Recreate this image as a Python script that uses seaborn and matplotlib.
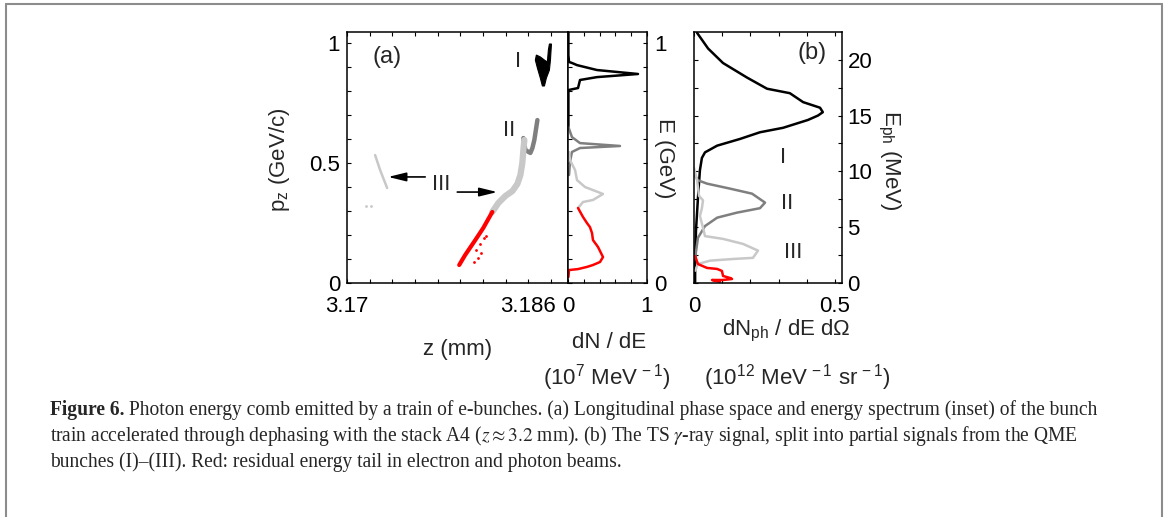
import matplotlib
matplotlib.use("Agg")
import matplotlib.pyplot as plt
import pandas as pd
import seaborn as sns
from matplotlib.lines import Line2D

sns.set_theme(style="white")
plt.rcParams["font.family"] = ["Liberation Sans", "DejaVu Sans"]
plt.rcParams["mathtext.fontset"] = "custom"
plt.rcParams["mathtext.rm"] = "Liberation Sans"
plt.rcParams["mathtext.it"] = "Liberation Sans:italic"
plt.rcParams["mathtext.bf"] = "Liberation Sans:bold"

BLACK, DARK, LIGHT, RED = "#000000", "#7f7f7f", "#c8c8c8", "#ff0000"

# ---------------- (a) longitudinal phase space: z (mm), p_z (GeV/c) ----------
tail_z = [3.17990, 3.18043, 3.18132, 3.18202, 3.18282]
tail_p = [0.075, 0.117, 0.179, 0.229, 0.296]
tail_dots_z = [3.18141, 3.18176, 3.18211, 3.18158, 3.18123, 3.18229, 3.18185]
tail_dots_p = [0.1375, 0.1625, 0.1875, 0.104, 0.0875, 0.196, 0.125]

b3_z = [3.18282, 3.18335, 3.18397, 3.18459, 3.18503, 3.18530, 3.18547, 3.18556, 3.18565]
b3_p = [0.296, 0.333, 0.3625, 0.383, 0.4125, 0.45, 0.5, 0.554, 0.596]
b3_lead_z = [3.17248, 3.17292, 3.17354]
b3_lead_p = [0.533, 0.471, 0.396]
b3_specks_z = [3.17168, 3.17212]
b3_specks_p = [0.321, 0.321]

b2_z = [3.18556, 3.18574, 3.18618, 3.18636, 3.18653, 3.18680]
b2_p = [0.604, 0.554, 0.542, 0.5625, 0.596, 0.679]

b1_z = [3.18671, 3.18706, 3.18742, 3.18768, 3.18777, 3.18786, 3.18804, 3.18795,
        3.18786, 3.18759, 3.18742, 3.18724, 3.18706, 3.18680, 3.18662]
b1_p = [0.950, 0.942, 0.929, 0.921, 0.971, 0.996, 0.996, 0.929,
        0.8875, 0.854, 0.821, 0.821, 0.854, 0.896, 0.929]

# ---------------- inset: electron spectrum dN/dE (1e7/MeV) vs E (GeV) -------
sp1_n = [0.005, 0.005, 0.013, 0.05, 0.114, 0.367, 0.886, 0.367, 0.152, 0.127, 0.005, 0.005]
sp1_e = [1.046, 0.95, 0.921, 0.917, 0.908, 0.8875, 0.871, 0.858, 0.846, 0.8125, 0.804, 0.65]
sp2_n = [0.005, 0.05, 0.152, 0.658, 0.152, 0.05, 0.025, 0.013]
sp2_e = [0.65, 0.608, 0.583, 0.571, 0.5625, 0.546, 0.504, 0.45]
sp3_n = [0.013, 0.025, 0.089, 0.114, 0.215, 0.443, 0.316, 0.19, 0.127]
sp3_e = [0.546, 0.5125, 0.471, 0.429, 0.40, 0.371, 0.346, 0.3375, 0.3125]
spr_n = [0.127, 0.19, 0.24, 0.278, 0.304, 0.316, 0.38, 0.443, 0.405, 0.316, 0.24,
         0.127, 0.013, 0.005]
spr_e = [0.3125, 0.275, 0.25, 0.233, 0.208, 0.179, 0.15, 0.108, 0.0875, 0.075,
         0.067, 0.058, 0.054, 0.025]

# ---------------- (b) photon spectrum dN/dE dOmega vs E_ph (MeV) ------------
ph1_n = [0.011, 0.05, 0.103, 0.188, 0.259, 0.34, 0.387, 0.447, 0.457, 0.44, 0.404,
         0.316, 0.234, 0.163, 0.082, 0.039, 0.028, 0.021, 0.014, 0.007, 0.004, 0.004]
ph1_e = [22.4, 21.0, 19.7, 18.4, 17.4, 17.0, 16.2, 15.7, 15.3, 15.0, 14.6,
         13.9, 13.5, 12.9, 12.3, 11.7, 11.2, 10.1, 7.6, 4.7, 1.7, 0.1]
ph2_n = [0.004, 0.014, 0.046, 0.128, 0.206, 0.252, 0.234, 0.152, 0.082, 0.039, 0.014, 0.004]
ph2_e = [9.6, 9.2, 8.9, 8.45, 8.0, 7.2, 6.7, 6.3, 5.85, 5.1, 4.05, 2.25]
ph3_n = [0.0, 0.011, 0.018, 0.032, 0.028, 0.021, 0.032, 0.039, 0.103, 0.174, 0.227,
         0.209, 0.138, 0.057, 0.014, 0.004]
ph3_e = [10.3, 9.2, 7.8, 7.4, 6.7, 6.0, 4.95, 4.2, 3.95, 3.5, 2.9,
         2.25, 2.15, 2.0, 1.7, 1.1]
phr_n = [0.004, 0.014, 0.046, 0.082, 0.099, 0.103, 0.128, 0.135, 0.103, 0.064, 0.092]
phr_e = [2.4, 1.7, 1.35, 1.26, 1.08, 0.63, 0.45, 0.36, 0.27, 0.27, 0.1]

# tick positions and labels
a_xticks = [3.17, 3.172, 3.174, 3.176, 3.178, 3.18, 3.182, 3.184, 3.186, 3.188]
a_xlabels = ["3.17", "", "", "", "", "", "", "", "3.186", ""]
e_ticks = [0, 0.1, 0.2, 0.3, 0.4, 0.5, 0.6, 0.7, 0.8, 0.9, 1.0]
a_ylabels = ["0", "", "", "", "", "0.5", "", "", "", "", "1"]
in_ylabels = ["0", "", "", "", "", "", "", "", "", "", "1"]
in_xticks = [0, 0.2, 0.4, 0.6, 0.8, 1.0]
in_xlabels = ["0", "", "", "", "", "1"]
b_xticks = [0, 0.1, 0.2, 0.3, 0.4, 0.5]
b_xlabels = ["0", "", "", "", "", "0.5"]
b_yticks = [0, 2.5, 5, 7.5, 10, 12.5, 15, 17.5, 20]
b_ylabels = ["0", "", "5", "", "10", "", "15", "", "20"]

W, H = 1165, 517
fig = plt.figure(figsize=(W / 100, H / 100), dpi=100)
fig.patch.set_facecolor("white")


def box(x0, x1, y0=32, y1=283):
    return [x0 / W, 1 - y1 / H, (x1 - x0) / W, (y1 - y0) / H]


ax_a = fig.add_axes(box(347, 568))
ax_in = fig.add_axes(box(568, 647))
ax_b = fig.add_axes(box(694, 842))

for ax in (ax_a, ax_in, ax_b):
    ax.set_facecolor("white")
    for s in ax.spines.values():
        s.set_color("black")
        s.set_linewidth(1.1)
    ax.tick_params(direction="in", length=2.6, width=0.8, color="black",
                   labelsize=16, labelcolor="black", pad=5,
                   bottom=True, top=True, left=True, right=True)
    ax.tick_params(axis="x", pad=9)


def curve(ax, x, y, color, lw):
    df = pd.DataFrame({"x": x, "y": y})
    sns.lineplot(data=df, x="x", y="y", sort=False, estimator=None, color=color,
                 linewidth=lw, ax=ax, legend=False)


# ---- panel (a)
ax_a.fill(b1_z, b1_p, color=BLACK, lw=0.8)
curve(ax_a, b2_z, b2_p, DARK, 3.2)
curve(ax_a, b3_z, b3_p, LIGHT, 4.5)
curve(ax_a, b3_lead_z, b3_lead_p, LIGHT, 1.8)
curve(ax_a, tail_z, tail_p, RED, 3.0)
sns.scatterplot(x=tail_dots_z, y=tail_dots_p, color=RED, s=4, linewidth=0, ax=ax_a)
sns.scatterplot(x=b3_specks_z, y=b3_specks_p, color=LIGHT, s=4, linewidth=0, ax=ax_a)

ax_a.set_xlim(3.17, 3.1895)
ax_a.set_ylim(0, 1.046)
ax_a.set_xticks(a_xticks, a_xlabels)
ax_a.set_yticks(e_ticks, a_ylabels)
ax_a.tick_params(right=False)
ax_a.set_xlabel("")
ax_a.set_ylabel("")

ax_a.text(3.17354, 0.942, "(a)", fontsize=17, ha="center", va="center")
ax_a.text(3.18505, 0.921, "I", fontsize=16, ha="center", va="center")
ax_a.text(3.18432, 0.6375, "II", fontsize=16, ha="center", va="center")
ax_a.text(3.17831, 0.4125, "III", fontsize=16, ha="center", va="center")
arrow = dict(arrowstyle="-|>,head_length=0.9,head_width=0.22", color="black",
             lw=1.2, shrinkA=0, shrinkB=0)
ax_a.annotate("", xy=(3.17363, 0.442), xytext=(3.17690, 0.442), arrowprops=arrow)
ax_a.annotate("", xy=(3.18326, 0.379), xytext=(3.17973, 0.379), arrowprops=arrow)

# ---- inset spectrum
curve(ax_in, sp1_n, sp1_e, BLACK, 1.8)
curve(ax_in, sp2_n, sp2_e, DARK, 1.8)
curve(ax_in, sp3_n, sp3_e, LIGHT, 1.8)
curve(ax_in, spr_n, spr_e, RED, 1.8)
ax_in.set_xlim(0, 1)
ax_in.set_ylim(0, 1.046)
ax_in.set_xticks(in_xticks, in_xlabels)
ax_in.set_yticks(e_ticks, in_ylabels)
ax_in.tick_params(labelleft=False, labelright=True)
ax_in.set_xlabel("")
ax_in.set_ylabel("")

# ---- panel (b)
curve(ax_b, ph1_n, ph1_e, BLACK, 1.8)
curve(ax_b, ph2_n, ph2_e, DARK, 1.8)
curve(ax_b, ph3_n, ph3_e, LIGHT, 1.8)
curve(ax_b, phr_n, phr_e, RED, 1.8)
ax_b.set_xlim(0, 0.525)
ax_b.set_ylim(0, 22.48)
ax_b.set_xticks(b_xticks, b_xlabels)
ax_b.set_yticks(b_yticks, b_ylabels)
ax_b.tick_params(axis="y", labelleft=False, labelright=True, pad=4)
ax_b.set_xlabel("")
ax_b.set_ylabel("")
ax_b.text(0.419, 20.6, "(b)", fontsize=17, ha="center", va="center")
ax_b.text(0.316, 11.2, "I", fontsize=16, ha="center", va="center")
ax_b.text(0.330, 7.1, "II", fontsize=16, ha="center", va="center")
ax_b.text(0.351, 2.7, "III", fontsize=16, ha="center", va="center")

# ---- axis titles
def ftext(x, y, s, **kw):
    fig.text(x / W, 1 - y / H, s, ha="center", va="center", fontsize=16, **kw)


ftext(280, 160, r"p$_{\rm z}$ (GeV/c)", rotation=90)
ftext(664, 158, "E (GeV)", rotation=-90)
ftext(889, 160, r"E$_{\rm ph}$ (MeV)", rotation=-90)
ftext(458, 349, "z (mm)")
ftext(609, 342, "dN / dE")
ftext(607, 378, r"(10$^7$ MeV$^{\,-1}$)")
ftext(786, 331, r"dN$_{\rm ph}$ / dE dΩ")
ftext(797, 378, r"(10$^{12}$ MeV$^{\,-1}$ sr$^{\,-1}$)")

# ---- caption
cap_font = ["Liberation Serif", "DejaVu Serif"]
line1_rest = (" Photon energy comb emitted by a train of e-bunches. (a) Longitudinal phase "
              "space and energy spectrum (inset) of the bunch")
line2 = (r"train accelerated through dephasing with the stack A4 ($z\approx 3.2$ mm). "
         r"(b) The TS $\gamma$-ray signal, split into partial signals from the QME")
line3 = "bunches (I)–(III). Red: residual energy tail in electron and photon beams."

renderer = fig.canvas.get_renderer()
x0 = 50 / W
fs = 14.0
t_bold = fig.text(x0, 1 - 410 / H, "Figure 6.", fontsize=fs, fontweight="bold",
                  family=cap_font, va="center", ha="left")
t_rest = fig.text(0, 1 - 410 / H, line1_rest, fontsize=fs, family=cap_font,
                  va="center", ha="left")
w = (t_bold.get_window_extent(renderer).width + t_rest.get_window_extent(renderer).width)
fs = fs * 1054.0 / w
t_bold.set_fontsize(fs)
t_rest.set_fontsize(fs)
bb = t_bold.get_window_extent(renderer)
t_rest.set_x(bb.x1 / W)
for y, s in ((436, line2), (462, line3)):
    fig.text(x0, 1 - y / H, s, fontsize=fs, family=cap_font, va="center", ha="left",
             math_fontfamily="stix")

# ---- page frame
frame = dict(transform=fig.transFigure, color="#8c8c8c", lw=1.5)
fig.add_artist(Line2D([5.5 / W, 5.5 / W], [0, 1 - 3.5 / H], **frame))
fig.add_artist(Line2D([5.5 / W, 1162 / W], [1 - 3.5 / H, 1 - 3.5 / H], **frame))
fig.add_artist(Line2D([1162 / W, 1162 / W], [0, 1 - 3.5 / H], **frame))

fig.savefig("out.png", dpi=100, facecolor="white")
